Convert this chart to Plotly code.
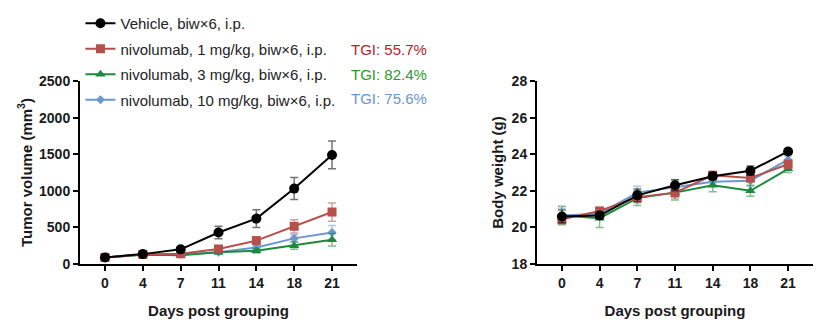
import plotly.graph_objects as go

days = ["0", "4", "7", "11", "14", "18", "21"]

names = [
    "Vehicle, biw×6, i.p.",
    "nivolumab, 1 mg/kg, biw×6, i.p.",
    "nivolumab, 3 mg/kg, biw×6, i.p.",
    "nivolumab, 10 mg/kg, biw×6, i.p.",
]
tgi_labels = ["", "TGI: 55.7%", "TGI: 82.4%", "TGI: 75.6%"]

# Tumor volume (mm^3), mean and SEM
tv_vehicle = [90, 135, 200, 430, 620, 1030, 1490]
tv_vehicle_err = [20, 25, 35, 85, 120, 150, 190]
tv_1mg = [90, 130, 140, 205, 320, 515, 710]
tv_1mg_err = [15, 20, 25, 35, 45, 90, 125]
tv_3mg = [90, 125, 120, 160, 180, 250, 330]
tv_3mg_err = [15, 15, 20, 25, 30, 50, 85]
tv_10mg = [90, 130, 130, 160, 225, 350, 430]
tv_10mg_err = [15, 20, 20, 25, 35, 50, 95]

# Body weight (g), mean and SEM
bw_vehicle = [20.6, 20.65, 21.75, 22.3, 22.8, 23.1, 24.15]
bw_vehicle_err = [0.35, 0.2, 0.35, 0.3, 0.2, 0.25, 0.15]
bw_1mg = [20.45, 20.9, 21.65, 21.9, 22.85, 22.7, 23.45]
bw_1mg_err = [0.25, 0.15, 0.3, 0.3, 0.2, 0.2, 0.2]
bw_3mg = [20.65, 20.5, 21.6, 21.9, 22.3, 22.0, 23.2]
bw_3mg_err = [0.5, 0.5, 0.4, 0.4, 0.35, 0.3, 0.2]
bw_10mg = [20.65, 20.75, 21.9, 22.2, 22.5, 22.55, 23.7]
bw_10mg_err = [0.4, 0.3, 0.35, 0.4, 0.25, 0.3, 0.2]

colors = ["#000000", "#B5504C", "#1B8A3C", "#6A97D2"]
err_colors = ["rgba(0,0,0,0.55)", "rgba(181,80,76,0.55)", "rgba(27,138,60,0.55)", "rgba(106,151,210,0.55)"]
tgi_colors = ["#000000", "#B8222A", "#2A9A2A", "#6A95D0"]
symbols = ["circle", "square", "triangle-up", "diamond"]
sizes = [10, 9, 9, 7]

tv = [(tv_vehicle, tv_vehicle_err), (tv_1mg, tv_1mg_err), (tv_3mg, tv_3mg_err), (tv_10mg, tv_10mg_err)]
bw = [(bw_vehicle, bw_vehicle_err), (bw_1mg, bw_1mg_err), (bw_3mg, bw_3mg_err), (bw_10mg, bw_10mg_err)]

FONT = "Arial, Liberation Sans, Helvetica, sans-serif"
fig = go.Figure()

order = [3, 2, 1, 0]  # draw vehicle on top
for i in order:
    y, e = tv[i]
    fig.add_trace(go.Scatter(
        x=days, y=y, name=names[i], mode="lines+markers",
        line=dict(color=colors[i], width=2),
        marker=dict(symbol=symbols[i], size=sizes[i], color=colors[i]),
        error_y=dict(type="data", array=e, color=err_colors[i], thickness=1.5, width=4),
        legendgroup="g" + str(i), legendrank=i + 1, cliponaxis=False,
        xaxis="x", yaxis="y",
    ))
for i in order:
    y, e = bw[i]
    fig.add_trace(go.Scatter(
        x=days, y=y, name=names[i], mode="lines+markers", showlegend=False,
        line=dict(color=colors[i], width=2),
        marker=dict(symbol=symbols[i], size=sizes[i], color=colors[i]),
        error_y=dict(type="data", array=e, color=err_colors[i], thickness=1.5, width=4),
        cliponaxis=False,
        xaxis="x2", yaxis="y2",
    ))

axis_common = dict(
    showline=True, linecolor="black", linewidth=2, ticks="outside", ticklen=5,
    tickwidth=2, tickcolor="black", showgrid=False, zeroline=False, automargin=False,
    tickfont=dict(family=FONT, size=14, color="#1a1a1a", weight="bold"),
)
title_font = dict(family=FONT, size=15, color="#1a1a1a", weight="bold")

ydom = [1 - 264 / 327, 1 - 81 / 327]
fig.update_layout(
    width=821, height=327,
    margin=dict(l=0, r=0, t=0, b=0, autoexpand=False),
    paper_bgcolor="white", plot_bgcolor="white",
    font=dict(family=FONT),
    showlegend=True,
    legend=dict(
        x=0.098, y=1 - 7 / 327, xanchor="left", yanchor="top",
        font=dict(family=FONT, size=15, color="#222222"),
        tracegroupgap=3, itemwidth=30, bgcolor="rgba(0,0,0,0)",
    ),
    xaxis=dict(domain=[80 / 821, 357 / 821], type="category", range=[-0.66, 6.66],
               title=dict(text="Days post grouping", standoff=16, font=title_font),
               **axis_common),
    yaxis=dict(domain=ydom, range=[0, 2500], dtick=500,
               title=dict(text="Tumor volume (mm<sup>3</sup>)", standoff=3, font=title_font),
               **axis_common),
    xaxis2=dict(domain=[537 / 821, 813 / 821], type="category", range=[-0.66, 6.66],
                anchor="y2",
                title=dict(text="Days post grouping", standoff=16, font=title_font),
                **axis_common),
    yaxis2=dict(domain=ydom, range=[18, 28], dtick=2, anchor="x2",
                title=dict(text="Body weight (g)", standoff=4, font=title_font),
                **axis_common),
)

tgi_y = [24, 49, 74, 99]
for i in range(1, 4):
    fig.add_annotation(
        x=349 / 821, y=1 - tgi_y[i] / 327, xref="paper", yref="paper",
        xanchor="left", yanchor="middle", showarrow=False,
        text=tgi_labels[i], font=dict(family=FONT, size=15, color=tgi_colors[i]),
    )

fig.write_html("out.html")
